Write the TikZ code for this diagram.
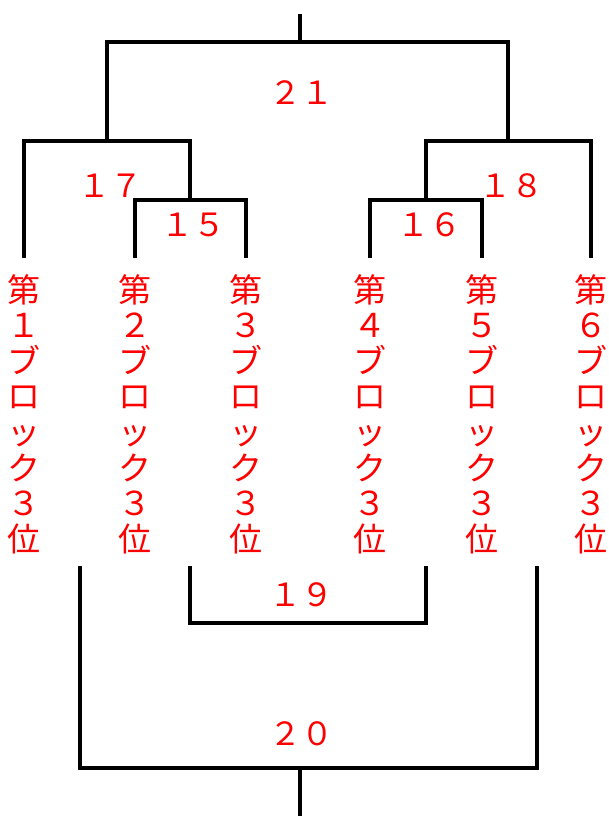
\documentclass[tikz,border=0pt]{standalone}
\usepackage{fontspec}
\newfontfamily\cjk{Noto Sans CJK JP}
\usepackage{xcolor}
\definecolor{cRed}{HTML}{FF0000}
\usepackage{tikz}
\usetikzlibrary{positioning,calc}
\tikzset{
  bracket-line/.style={draw=black,line width=3.2pt,line join=miter},
  num-label/.style={text=cRed,inner sep=0pt,font=\cjk\fontsize{32}{32}\selectfont},
  block-label/.style={text=cRed,inner sep=0pt,align=center,
    font=\cjk\fontsize{33}{35.6}\selectfont},
}

\begin{document}
\begin{tikzpicture}[x=1pt,y=-1pt]
  \useasboundingbox (0,0) rectangle (609,816);
  % ブロック 3位の列
  \foreach \i/\x/\d in {1/24/１,2/135/２,3/246/３,4/370/４,5/482/５,6/591/６}{
    \node[block-label] (blk\i) at (\x,414) {第\\\d\\ブ\\ロ\\ッ\\ク\\３\\位};
    \coordinate (t\i) at (\x,258);
  }
  \coordinate (u12) at (80,566);
  \coordinate (u23) at (190,566);
  \coordinate (u45) at (426,566);
  \coordinate (u56) at (537,566);
  \coordinate (m15) at (190,200);
  \coordinate (m16) at (426,200);
  \coordinate (m17) at (107,141);
  \coordinate (m18) at (508,141);
  \coordinate (m21) at (300,42);
  \coordinate (m19) at (308,623);
  \coordinate (m20) at (300,768);
  \coordinate (top) at (300,14);
  \coordinate (bot) at (300,816);
  % 上の山
  \draw[bracket-line] (t2) |- (m15) -| (t3);
  \draw[bracket-line] (t4) |- (m16) -| (t5);
  \draw[bracket-line] (t1) |- (m17) -| (m15);
  \draw[bracket-line] (m16) |- (m18) -| (t6);
  \draw[bracket-line] (m17) |- (m21) -| (m18);
  \draw[bracket-line] (m21) -- (top);
  % 下の山
  \draw[bracket-line] (u23) |- (m19) -| (u45);
  \draw[bracket-line] (u12) |- (m20) -| (u56);
  \draw[bracket-line] (m20) -- (bot);
  % 試合番号
  \node[num-label] (n21) at (301,93)  {２１};
  \node[num-label] (n17) at (110,186) {１７};
  \node[num-label] (n15) at (193,225) {１５};
  \node[num-label] (n18) at (511,186) {１８};
  \node[num-label] (n16) at (429,225) {１６};
  \node[num-label] (n19) at (301,595) {１９};
  \node[num-label] (n20) at (301,734) {２０};
\end{tikzpicture}
\end{document}
